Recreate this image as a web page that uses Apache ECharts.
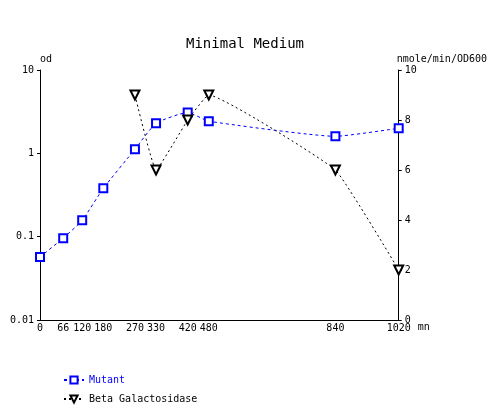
<!DOCTYPE html>
<html><head><meta charset="utf-8">
<script src="https://cdn.jsdelivr.net/npm/echarts@6/dist/echarts.min.js"></script>
<style>html,body{margin:0;padding:0;background:#fff}#c{width:490px;height:405px}</style>
</head><body><div id="c"></div>
<script>
const times = [0, 66, 120, 180, 270, 330, 420, 480, 840, 1020];
const xTickLabels = [0, 66, 120, 180, 270, 330, 420, 480, 840, 1020];
const mutantOD = [0.057, 0.096, 0.157, 0.38, 1.12, 2.3, 3.1, 2.43, 1.6, 2.0];
const betaTimes = [270, 330, 420, 480, 840, 1020];
const betaGal = [9, 6, 8, 9, 6, 2];
const leftTicks = [0.01, 0.1, 1, 10];

const F = 'DejaVu Sans Mono';
const chart = echarts.init(document.getElementById('c'), null, {renderer: 'canvas'});
const legendBase = {orient: 'vertical', left: 58, itemWidth: 20, itemHeight: 9,
  textStyle: {fontFamily: F, fontSize: 10}};
chart.setOption({
  animation: false,
  backgroundColor: '#fff',
  title: {text: 'Minimal Medium', left: 'center', top: 32,
    textStyle: {fontFamily: F, fontSize: 14, fontWeight: 'normal', color: '#000'}},
  grid: {left: 40, right: 90, top: 70, bottom: 85},
  legend: [
    Object.assign({}, legendBase, {top: 370, data: [{name: 'Mutant', textStyle: {color: '#0000ff'}}]}),
    Object.assign({}, legendBase, {top: 389, data: [{name: 'Beta Galactosidase', textStyle: {color: '#000'}}]})
  ],
  xAxis: {
    type: 'value', min: 0, max: 1020, name: 'mn', nameLocation: 'end', nameGap: 19,
    nameTextStyle: {fontFamily: F, fontSize: 10, color: '#000', align: 'left', verticalAlign: 'top', padding: [2, 0, 0, 0]},
    splitLine: {show: false},
    axisLine: {lineStyle: {color: '#000', width: 1}},
    axisTick: {show: false},
    axisLabel: {customValues: xTickLabels, fontFamily: F, fontSize: 10, color: '#000', margin: 3,
      showMinLabel: true, showMaxLabel: true, formatter: v => String(v)}
  },
  yAxis: [
    {type: 'log', logBase: 10, min: 0.01, max: 10, position: 'left', name: 'od', nameGap: 6,
     nameTextStyle: {fontFamily: F, fontSize: 10, color: '#000', align: 'left'},
     splitLine: {show: false}, minorTick: {show: false},
     axisLine: {show: true, lineStyle: {color: '#000'}},
     axisTick: {show: true, length: 3, lineStyle: {color: '#000'}},
     axisLabel: {fontFamily: F, fontSize: 10, color: '#000', margin: 6,
       formatter: v => { const t = leftTicks.find(x => Math.abs(x - v) / x < 1e-6); return t === undefined ? '' : String(t); }}},
    {type: 'value', min: 0, max: 10, interval: 2, position: 'right', name: 'nmole/min/OD600', nameGap: 6,
     nameTextStyle: {fontFamily: F, fontSize: 10, color: '#000', align: 'left', padding: [0, 0, 0, -2]},
     splitLine: {show: false},
     axisLine: {show: true, lineStyle: {color: '#000'}},
     axisTick: {show: true, length: 3, lineStyle: {color: '#000'}},
     axisLabel: {fontFamily: F, fontSize: 10, color: '#000', margin: 6}}
  ],
  series: [
    {name: 'Mutant', type: 'line', yAxisIndex: 0, smooth: 0.15,
     data: times.map((t, i) => [t, mutantOD[i]]),
     symbol: 'emptyRect', symbolSize: 8,
     lineStyle: {color: '#0000ff', width: 1, type: [3, 3]},
     itemStyle: {color: '#0000ff', borderColor: '#0000ff', borderWidth: 1}},
    {name: 'Beta Galactosidase', type: 'line', yAxisIndex: 1, smooth: 0.1,
     data: betaTimes.map((t, i) => [t, betaGal[i]]),
     symbol: 'emptyTriangle', symbolRotate: 180, symbolSize: 9,
     lineStyle: {color: '#000', width: 1, type: [2, 3]},
     itemStyle: {color: '#000', borderColor: '#000', borderWidth: 1}}
  ]
});
</script></body></html>
